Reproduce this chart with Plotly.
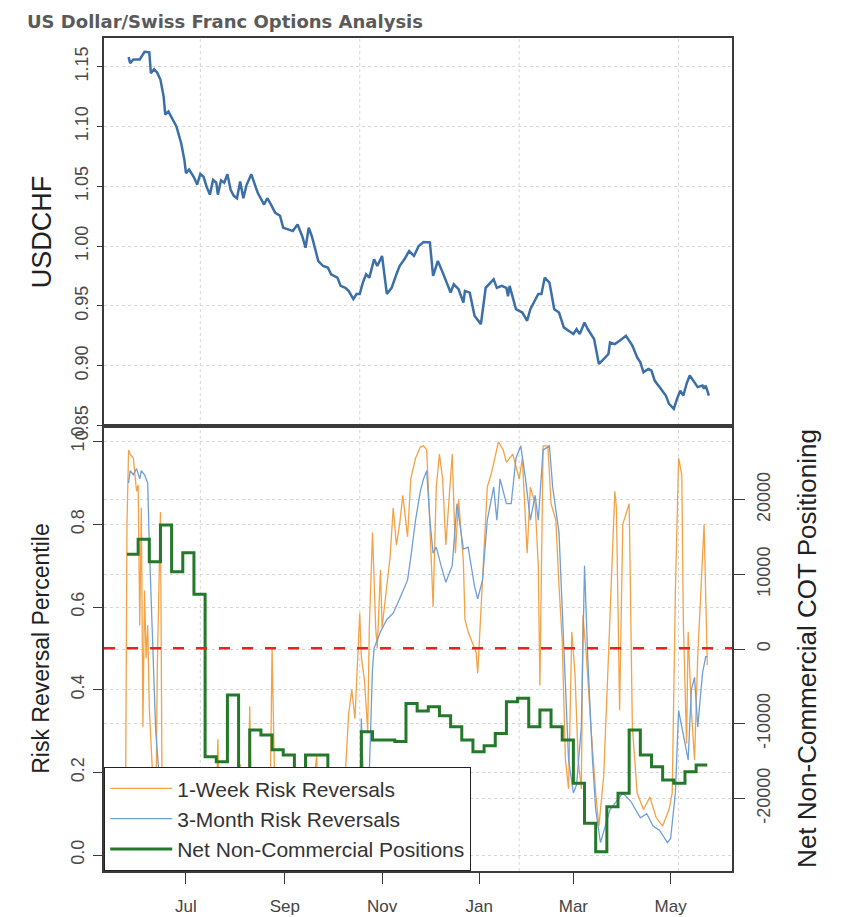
import plotly.graph_objects as go

title_text = "US Dollar/Swiss Franc Options Analysis"

usdchf_dates = [
    "2010-05-26", "2010-05-27", "2010-05-29", "2010-06-02", "2010-06-05", "2010-06-08", "2010-06-09", "2010-06-11", "2010-06-13", "2010-06-15",
    "2010-06-17", "2010-06-18", "2010-06-20", "2010-06-22", "2010-06-25", "2010-06-28", "2010-06-30", "2010-07-01", "2010-07-03", "2010-07-06",
    "2010-07-08", "2010-07-10", "2010-07-12", "2010-07-14", "2010-07-16", "2010-07-18", "2010-07-20", "2010-07-21", "2010-07-23", "2010-07-25",
    "2010-07-27", "2010-07-29", "2010-07-31", "2010-08-02", "2010-08-04", "2010-08-06", "2010-08-08", "2010-08-11", "2010-08-13", "2010-08-15",
    "2010-08-19", "2010-08-21", "2010-08-23", "2010-08-26", "2010-08-29", "2010-08-31", "2010-09-03", "2010-09-06", "2010-09-09", "2010-09-12",
    "2010-09-14", "2010-09-16", "2010-09-18", "2010-09-20", "2010-09-22", "2010-09-25", "2010-09-28", "2010-09-30", "2010-10-04", "2010-10-06",
    "2010-10-09", "2010-10-11", "2010-10-14", "2010-10-16", "2010-10-18", "2010-10-20", "2010-10-22", "2010-10-24", "2010-10-27", "2010-10-29",
    "2010-11-01", "2010-11-04", "2010-11-07", "2010-11-10", "2010-11-12", "2010-11-15", "2010-11-18", "2010-11-21", "2010-11-24", "2010-11-27",
    "2010-12-01", "2010-12-03", "2010-12-06", "2010-12-09", "2010-12-14", "2010-12-16", "2010-12-19", "2010-12-22", "2010-12-23", "2010-12-26",
    "2010-12-29", "2011-01-02", "2011-01-05", "2011-01-07", "2011-01-10", "2011-01-12", "2011-01-15", "2011-01-18", "2011-01-19", "2011-01-20",
    "2011-01-24", "2011-01-28", "2011-01-31", "2011-02-02", "2011-02-05", "2011-02-07", "2011-02-09", "2011-02-11", "2011-02-14", "2011-02-17",
    "2011-02-20", "2011-02-23", "2011-02-26", "2011-03-01", "2011-03-03", "2011-03-05", "2011-03-08", "2011-03-10", "2011-03-14", "2011-03-17",
    "2011-03-20", "2011-03-23", "2011-03-24", "2011-03-27", "2011-03-30", "2011-04-03", "2011-04-07", "2011-04-10", "2011-04-12", "2011-04-14",
    "2011-04-17", "2011-04-19", "2011-04-21", "2011-04-24", "2011-04-28", "2011-04-30", "2011-05-03", "2011-05-05", "2011-05-07", "2011-05-09",
    "2011-05-11", "2011-05-13", "2011-05-16", "2011-05-18", "2011-05-21", "2011-05-22", "2011-05-23", "2011-05-25",
]
usdchf_values = [
    1.158, 1.153, 1.156, 1.156, 1.1625, 1.162, 1.1445, 1.148, 1.145, 1.139,
    1.125, 1.110, 1.1125, 1.107, 1.100, 1.086, 1.072, 1.061, 1.064, 1.0575,
    1.0514, 1.0603, 1.058, 1.0494, 1.043, 1.0553, 1.053, 1.043, 1.055, 1.053,
    1.060, 1.047, 1.042, 1.040, 1.054, 1.040, 1.051, 1.060, 1.0517, 1.0445,
    1.0347, 1.040, 1.0355, 1.0278, 1.0253, 1.0153, 1.014, 1.0125, 1.018, 1.008,
    0.9986, 1.0153, 1.008, 0.997, 0.9875, 0.9833, 0.982, 0.9764, 0.9736, 0.9667,
    0.965, 0.9625, 0.9556, 0.960, 0.960, 0.9695, 0.9764, 0.9736, 0.9889, 0.9833,
    0.9917, 0.960, 0.965, 0.9764, 0.9833, 0.9889, 0.9958, 0.9917, 1.000, 1.0033,
    1.003, 0.975, 0.9875, 0.978, 0.9611, 0.968, 0.9639, 0.9528, 0.9625, 0.961,
    0.9417, 0.9347, 0.965, 0.968, 0.9722, 0.965, 0.9667, 0.965, 0.958, 0.9667,
    0.9472, 0.9444, 0.9375, 0.9472, 0.9542, 0.960, 0.960, 0.9736, 0.9694, 0.9472,
    0.9444, 0.932, 0.9292, 0.9264, 0.9306, 0.9264, 0.936, 0.9306, 0.9222, 0.9014,
    0.9055, 0.9097, 0.9194, 0.918, 0.9208, 0.925, 0.9167, 0.9069, 0.9028, 0.8944,
    0.8972, 0.8958, 0.8875, 0.882, 0.875, 0.868, 0.8639, 0.8722, 0.879, 0.875,
    0.8847, 0.8917, 0.8861, 0.882, 0.8833, 0.8806, 0.8833, 0.875,
]

rr1w_dates = [
    "2010-05-24", "2010-05-25", "2010-05-26", "2010-05-27", "2010-05-29", "2010-05-31", "2010-06-01", "2010-06-02", "2010-06-03", "2010-06-04",
    "2010-06-05", "2010-06-06", "2010-06-07", "2010-06-08", "2010-06-10", "2010-06-11", "2010-06-12", "2010-06-13", "2010-06-15", "2010-06-16",
    "2010-06-17", "2010-06-24", "2010-07-04", "2010-07-13", "2010-07-20", "2010-07-21", "2010-07-22", "2010-07-29", "2010-08-04", "2010-08-05",
    "2010-08-09", "2010-08-10", "2010-08-11", "2010-08-18", "2010-08-23", "2010-08-24", "2010-08-25", "2010-08-26", "2010-08-29", "2010-09-04",
    "2010-09-11", "2010-09-14", "2010-09-15", "2010-09-21", "2010-09-22", "2010-09-29", "2010-10-07", "2010-10-09", "2010-10-11", "2010-10-13",
    "2010-10-15", "2010-10-17", "2010-10-18", "2010-10-19", "2010-10-21", "2010-10-23", "2010-10-24", "2010-10-26", "2010-10-28", "2010-10-29",
    "2010-10-31", "2010-11-01", "2010-11-03", "2010-11-06", "2010-11-08", "2010-11-10", "2010-11-12", "2010-11-14", "2010-11-17", "2010-11-19",
    "2010-11-22", "2010-11-25", "2010-11-27", "2010-11-29", "2010-12-01", "2010-12-03", "2010-12-05", "2010-12-07", "2010-12-09", "2010-12-11",
    "2010-12-15", "2010-12-17", "2010-12-19", "2010-12-22", "2010-12-23", "2010-12-25", "2010-12-28", "2010-12-30", "2010-12-31", "2011-01-03",
    "2011-01-06", "2011-01-09", "2011-01-13", "2011-01-16", "2011-01-18", "2011-01-22", "2011-01-26", "2011-01-28", "2011-01-31", "2011-02-02",
    "2011-02-05", "2011-02-07", "2011-02-08", "2011-02-10", "2011-02-13", "2011-02-15", "2011-02-18", "2011-02-20", "2011-02-22", "2011-02-24",
    "2011-02-26", "2011-02-28", "2011-03-02", "2011-03-04", "2011-03-06", "2011-03-07", "2011-03-09", "2011-03-12", "2011-03-15", "2011-03-17",
    "2011-03-20", "2011-03-23", "2011-03-25", "2011-03-27", "2011-03-28", "2011-03-30", "2011-04-01", "2011-04-05", "2011-04-07", "2011-04-10",
    "2011-04-14", "2011-04-18", "2011-04-22", "2011-04-26", "2011-04-30", "2011-05-02", "2011-05-04", "2011-05-06", "2011-05-08", "2011-05-09",
    "2011-05-11", "2011-05-12", "2011-05-14", "2011-05-16", "2011-05-18", "2011-05-22", "2011-05-24",
]
rr1w_values = [
    0.05, 0.80, 0.98, 0.97, 0.96, 0.88, 0.895, 0.556, 0.84, 0.31,
    0.64, 0.476, 0.556, 0.355, 0.20, 0.05, 0.03, 0.45, 0.83, 0.15,
    0.02, 0.10, 0.05, 0.08, 0.12, 0.28, 0.10, 0.05, 0.22, 0.08,
    0.15, 0.36, 0.10, 0.05, 0.18, 0.50, 0.30, 0.10, 0.05, 0.12,
    0.08, 0.20, 0.05, 0.24, 0.10, 0.05, 0.12, 0.20, 0.34, 0.40,
    0.33, 0.52, 0.585, 0.48, 0.42, 0.30, 0.55, 0.78, 0.55, 0.50,
    0.69, 0.55, 0.62, 0.72, 0.84, 0.75, 0.80, 0.87, 0.77, 0.91,
    0.96, 0.987, 0.99, 0.98, 0.80, 0.60, 0.89, 0.97, 0.91, 0.75,
    0.97, 0.73, 0.86, 0.71, 0.57, 0.54, 0.51, 0.49, 0.44, 0.65,
    0.89, 0.93, 1.00, 0.98, 0.95, 0.97, 0.91, 0.96, 0.73, 0.89,
    0.85, 0.70, 0.41, 0.99, 0.99, 0.85, 0.81, 0.65, 0.52, 0.23,
    0.16, 0.54, 0.44, 0.23, 0.16, 0.58, 0.49, 0.31, 0.15, 0.07,
    0.19, 0.48, 0.68, 0.88, 0.84, 0.35, 0.80, 0.85, 0.31, 0.15,
    0.11, 0.14, 0.09, 0.07, 0.11, 0.15, 0.64, 0.96, 0.92, 0.56,
    0.27, 0.54, 0.35, 0.23, 0.48, 0.80, 0.46,
]

rr3m_dates = [
    "2010-05-26", "2010-05-27", "2010-05-29", "2010-05-31", "2010-06-02", "2010-06-03", "2010-06-05", "2010-06-07", "2010-06-08", "2010-06-10",
    "2010-06-12", "2010-06-14", "2010-06-15", "2010-06-21", "2010-07-10", "2010-07-29", "2010-08-16", "2010-09-04", "2010-09-23", "2010-10-12",
    "2010-10-18", "2010-10-19", "2010-10-21", "2010-10-24", "2010-10-26", "2010-10-27", "2010-10-31", "2010-11-04", "2010-11-08", "2010-11-12",
    "2010-11-17", "2010-11-19", "2010-11-22", "2010-11-25", "2010-11-27", "2010-11-29", "2010-12-01", "2010-12-03", "2010-12-05", "2010-12-08",
    "2010-12-11", "2010-12-15", "2010-12-18", "2010-12-22", "2010-12-25", "2010-12-29", "2010-12-31", "2011-01-03", "2011-01-06", "2011-01-10",
    "2011-01-12", "2011-01-14", "2011-01-18", "2011-01-21", "2011-01-24", "2011-01-27", "2011-01-30", "2011-02-02", "2011-02-05", "2011-02-07",
    "2011-02-10", "2011-02-14", "2011-02-16", "2011-02-20", "2011-02-22", "2011-02-24", "2011-02-26", "2011-03-01", "2011-03-03", "2011-03-06",
    "2011-03-08", "2011-03-10", "2011-03-13", "2011-03-15", "2011-03-18", "2011-03-21", "2011-03-24", "2011-03-28", "2011-04-01", "2011-04-06",
    "2011-04-09", "2011-04-12", "2011-04-16", "2011-04-20", "2011-04-24", "2011-04-29", "2011-05-01", "2011-05-04", "2011-05-06", "2011-05-08",
    "2011-05-10", "2011-05-12", "2011-05-14", "2011-05-16", "2011-05-18", "2011-05-21", "2011-05-23", "2011-05-24",
]
rr3m_values = [
    0.90, 0.93, 0.92, 0.935, 0.91, 0.93, 0.92, 0.90, 0.75, 0.50,
    0.30, 0.20, 0.08, 0.05, 0.08, 0.04, 0.06, 0.03, 0.05, 0.06,
    0.10, 0.33, 0.10, 0.20, 0.45, 0.50, 0.54, 0.57, 0.585, 0.62,
    0.665, 0.72, 0.81, 0.88, 0.91, 0.93, 0.81, 0.73, 0.745, 0.70,
    0.66, 0.70, 0.85, 0.74, 0.745, 0.65, 0.62, 0.665, 0.81, 0.89,
    0.81, 0.91, 0.85, 0.85, 0.96, 0.99, 0.91, 0.81, 0.87, 0.81,
    0.98, 0.99, 0.89, 0.78, 0.60, 0.40, 0.23, 0.15, 0.17, 0.31,
    0.70, 0.48, 0.23, 0.11, 0.03, 0.07, 0.11, 0.13, 0.15, 0.13,
    0.11, 0.09, 0.10, 0.07, 0.06, 0.03, 0.04, 0.15, 0.35, 0.31,
    0.27, 0.23, 0.40, 0.43, 0.31, 0.44, 0.48, 0.48,
]

cot_dates = [
    "2010-05-25", "2010-06-01", "2010-06-08", "2010-06-15", "2010-06-22", "2010-06-29", "2010-07-06", "2010-07-13", "2010-07-20", "2010-07-27",
    "2010-08-03", "2010-08-10", "2010-08-17", "2010-08-24", "2010-08-31", "2010-09-07", "2010-09-14", "2010-09-21", "2010-09-28", "2010-10-05",
    "2010-10-12", "2010-10-19", "2010-10-26", "2010-11-02", "2010-11-09", "2010-11-16", "2010-11-23", "2010-11-30", "2010-12-07", "2010-12-14",
    "2010-12-21", "2010-12-28", "2011-01-04", "2011-01-11", "2011-01-18", "2011-01-25", "2011-02-01", "2011-02-08", "2011-02-15", "2011-02-22",
    "2011-03-01", "2011-03-08", "2011-03-15", "2011-03-22", "2011-03-29", "2011-04-05", "2011-04-12", "2011-04-19", "2011-04-26", "2011-05-03",
    "2011-05-10", "2011-05-17", "2011-05-24",
]
cot_values = [
    12680, 14690, 11690, 16600, 10350, 12900, 7320, -14420, -15090, -6160,
    -16200, -10850, -11500, -13500, -14190, -17500, -14190, -14190, -18500, -19000,
    -17000, -11070, -12180, -12180, -12400, -7300, -8300, -7730, -8950, -10400,
    -12180, -13750, -12950, -11300, -7050, -6600, -10400, -8170, -10400, -12180,
    -17990, -23340, -27140, -21120, -19320, -10850, -14190, -15760, -17540, -17990,
    -16430, -15530, -15530,
]

month_ticks = ["2010-07-01", "2010-09-01", "2010-11-01", "2011-01-01", "2011-03-01", "2011-05-01"]
month_labels = ["Jul", "Sep", "Nov", "Jan", "Mar", "May"]
grid_dates = ["2010-07-10", "2010-10-18", "2011-01-26", "2011-05-06"]
usdchf_ticks = [0.85, 0.90, 0.95, 1.00, 1.05, 1.10, 1.15]
pct_ticks = [0.0, 0.2, 0.4, 0.6, 0.8, 1.0]
cot_ticks = [-20000, -10000, 0, 10000, 20000]
cot_tick_labels = ["-20000", "-10000", "0", "10000", "20000"]
neutral_level = 0.5

assert len(usdchf_dates) == len(usdchf_values)
assert len(rr1w_dates) == len(rr1w_values)
assert len(rr3m_dates) == len(rr3m_values)
assert len(cot_dates) == len(cot_values)

FONT = "Liberation Sans, Arial, sans-serif"
AXIS_LINE = "#3a3a3a"
GRID = "#d6d6d6"
TICK_FONT = dict(family=FONT, size=18, color="#4a4a4a")

# the page body adds an 8px offset, so the figure is 8px smaller on each axis
FIG_W, FIG_H = 833, 909
split = (871 - 426) / 833
x_range = ["2010-05-10 14:00", "2011-06-08 12:00"]

fig = go.Figure()
fig.add_trace(go.Scatter(x=usdchf_dates, y=usdchf_values, mode="lines", showlegend=False,
                         line=dict(color="#3c6ea7", width=2.5), xaxis="x", yaxis="y"))
fig.add_trace(go.Scatter(x=rr1w_dates, y=rr1w_values, mode="lines", name="1-Week Risk Reversals",
                         line=dict(color="#f4a245", width=1.3), xaxis="x2", yaxis="y2"))
fig.add_trace(go.Scatter(x=rr3m_dates, y=rr3m_values, mode="lines", name="3-Month Risk Reversals",
                         line=dict(color="#6f9fd6", width=1.3), xaxis="x2", yaxis="y2"))
fig.add_trace(go.Scatter(x=cot_dates, y=cot_values, mode="lines", name="Net Non-Commercial Positions",
                         line=dict(color="#23782a", width=3, shape="hv"), xaxis="x2", yaxis="y3"))

for d in grid_dates:
    for xr, yr in (("x", "y domain"), ("x2", "y2 domain")):
        fig.add_shape(type="line", xref=xr, yref=yr, x0=d, x1=d, y0=0, y1=1,
                      line=dict(color=GRID, width=1, dash="dot"), layer="below")

fig.add_shape(type="line", xref="x2 domain", yref="y2", x0=0, x1=1, y0=neutral_level, y1=neutral_level,
              line=dict(color="#e8221c", width=2.5, dash="11px,12px"), layer="above")

# right edge of the picture frame
fig.add_shape(type="line", xref="paper", yref="paper",
              x0=(838 - 104) / 628, x1=(838 - 104) / 628, y0=(871 - 917) / 833, y1=(871 - 2) / 833,
              line=dict(color="#666666", width=1.5), layer="below")

fig.update_layout(
    width=FIG_W, height=FIG_H,
    margin=dict(l=96, r=109, t=30, b=46),
    paper_bgcolor="white", plot_bgcolor="white",
    font=dict(family=FONT, color="#333333"),
    title=dict(text="<b>" + title_text + "</b>", x=19 / FIG_W, xanchor="left", xref="container",
               y=1 - 13.5 / FIG_H, yanchor="middle", yref="container",
               font=dict(family="DejaVu Sans, Verdana, sans-serif", size=18, color="#5a5a5a")),
    showlegend=True,
    legend=dict(x=0, y=0, xanchor="left", yanchor="bottom", bgcolor="white",
                bordercolor="#222222", borderwidth=1.2, itemwidth=62,
                font=dict(family=FONT, size=21, color="#333333"), tracegroupgap=0),
    xaxis=dict(domain=[0, 1], anchor="y", range=x_range, type="date", showticklabels=False, ticks="",
               showgrid=False, zeroline=False, showline=True, mirror=True, linecolor=AXIS_LINE, linewidth=1.5,
               automargin=False),
    yaxis=dict(domain=[split, 1], anchor="x", range=[0.8495, 1.174], tickvals=usdchf_ticks, tickformat=".2f",
               tickangle=-90, ticks="outside", ticklen=5, tickcolor=AXIS_LINE, tickfont=TICK_FONT,
               ticklabelstandoff=2, automargin=False,
               showgrid=True, gridcolor=GRID, griddash="dot", gridwidth=1, zeroline=False,
               showline=True, mirror=True, linecolor=AXIS_LINE, linewidth=1.5,
               title=dict(text="USDCHF", font=dict(family=FONT, size=27, color="#222222"), standoff=13)),
    xaxis2=dict(domain=[0, 1], anchor="y2", range=x_range, type="date", tickvals=month_ticks, ticktext=month_labels,
                ticks="outside", ticklen=11, tickcolor=AXIS_LINE, tickfont=dict(family=FONT, size=17, color="#444444"),
                ticklabelstandoff=8,
                showgrid=False, zeroline=False, showline=True, mirror=True, linecolor=AXIS_LINE, linewidth=1.5,
                automargin=False),
    yaxis2=dict(domain=[0, split], anchor="x2", range=[-0.0387, 1.038], tickvals=pct_ticks, tickformat=".1f",
                tickangle=-90, ticks="outside", ticklen=9, tickcolor=AXIS_LINE, tickfont=TICK_FONT,
                ticklabelstandoff=2, automargin=False,
                showgrid=True, gridcolor=GRID, griddash="dot", gridwidth=1, zeroline=False,
                showline=True, mirror=True, linecolor=AXIS_LINE, linewidth=1.5,
                title=dict(text="Risk Reversal Percentile", font=dict(family=FONT, size=23, color="#222222"),
                           standoff=12)),
    yaxis3=dict(overlaying="y2", anchor="x2", side="right", range=[-29726, 29860], tickvals=cot_ticks,
                ticktext=cot_tick_labels, tickangle=-90, ticks="outside", ticklen=11, tickcolor=AXIS_LINE,
                tickfont=TICK_FONT, ticklabelstandoff=4, automargin=False,
                showgrid=True, gridcolor=GRID, griddash="dot", gridwidth=1, zeroline=False,
                showline=True, linecolor=AXIS_LINE, linewidth=1.5,
                title=dict(text="Net Non-Commercial COT Positioning", font=dict(family=FONT, size=26, color="#222222"),
                           standoff=24)),
)

fig.write_html("out.html")
